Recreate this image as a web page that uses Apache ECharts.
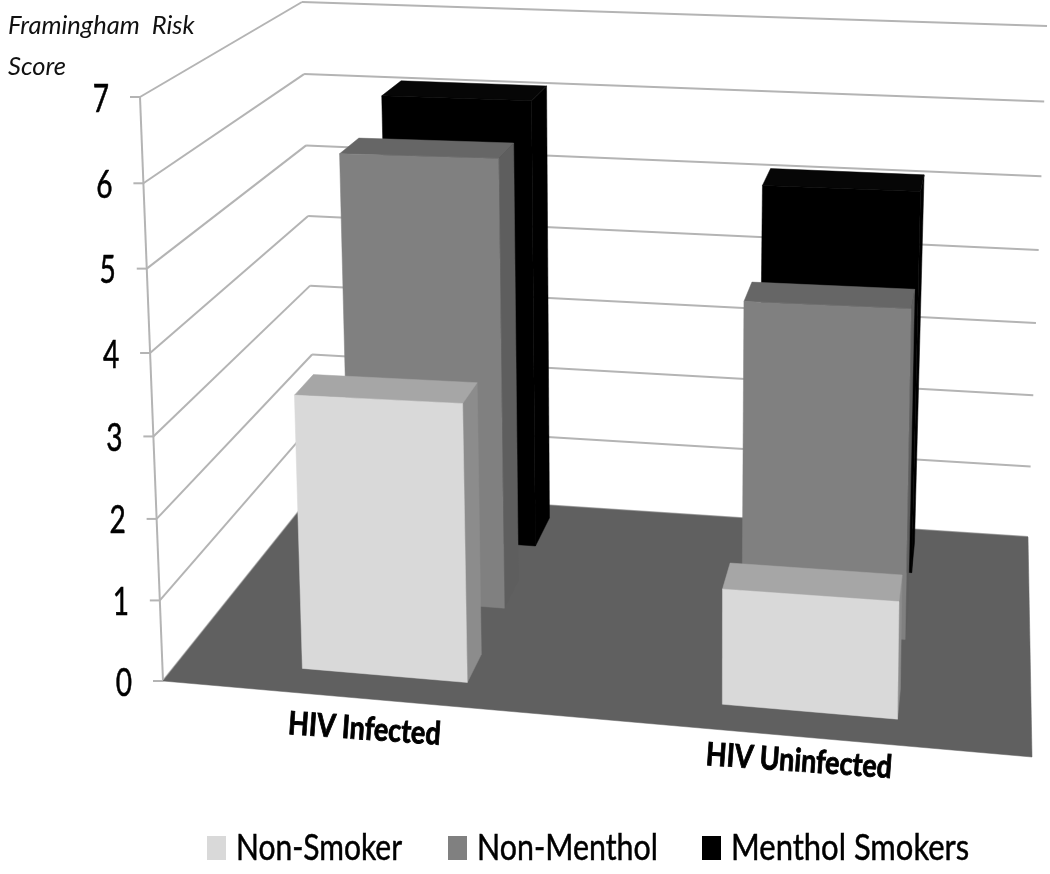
<!DOCTYPE html>
<html><head><meta charset="utf-8">
<style>html,body{margin:0;padding:0;background:#fff}#c{width:1050px;height:874px}</style>
<script src="https://cdn.jsdelivr.net/npm/echarts@6/dist/echarts.min.js"></script>
</head><body><div id="c"></div>
<script>
const categories = ['HIV Infected', 'HIV Uninfected'];
const seriesNames = ['Non-Smoker', 'Non-Menthol', 'Menthol Smokers'];
const nonSmoker = [3.36, 1.36];
const nonMenthol = [5.74, 4.09];
const mentholSmokers = [6.05, 5.05];
const valueTicks = [0, 1, 2, 3, 4, 5, 6, 7];
const yTitle = 'Framingham  Risk\nScore';

const font = 'Lato, sans-serif';
const GRID = {left: 163, top: 97, width: 869, height: 584};
// Box corners of the 3D scene as seen on screen
const C = {
  fbl: [163, 681], fbr: [1032, 757], ftl: [140, 97], ftr: [1045, 105],
  bbl: [316, 490], bbr: [1028, 537], btl: [302, 2], btr: [1047, 26]
};
const mix = (a, b, t) => [a[0] + (b[0] - a[0]) * t, a[1] + (b[1] - a[1]) * t];
function project(u, d, v) {
  const U = 0.94 * u + 0.06 * u * u;
  const V = v - 0.04 * v * (1 - v);
  const fb = mix(C.fbl, C.fbr, U), ft = mix(C.ftl, C.ftr, U);
  const bb = mix(C.bbl, C.bbr, U), bt = mix(C.btl, C.btr, U);
  return mix(mix(fb, ft, V), mix(bb, bt, V), d);
}
const toU = px => (px - GRID.left) / GRID.width;
const toV = py => (GRID.top + GRID.height - py) / GRID.height;

function poly(points, fill) {
  return {type: 'polygon', shape: {points}, style: {fill, stroke: fill, lineWidth: 0.5}};
}
function line(a, b, stroke, w) {
  return {type: 'line', shape: {x1: a[0], y1: a[1], x2: b[0], y2: b[1]}, style: {stroke, lineWidth: w, fill: null}};
}
const DEPTH = 0.14;
function barSeries(name, values, row, z, front, top, side) {
  return {
    name, type: 'custom', coordinateSystem: 'cartesian2d',
    itemStyle: {color: front}, z,
    encode: {x: 0, y: 1}, silent: true,
    data: values.map((v, i) => [i, v]),
    renderItem(params, api) {
      const p = api.coord([api.value(0), api.value(1)]);
      const half = api.size([1, 0])[0] * 0.2 / GRID.width;
      const uc = toU(p[0]), V = toV(p[1]);
      const u0 = uc - half, u1 = uc + half, d0 = row, d1 = row + DEPTH;
      return {type: 'group', children: [
        poly([project(u1, d0, 0), project(u1, d1, 0), project(u1, d1, V), project(u1, d0, V)], side),
        poly([project(u0, d0, V), project(u1, d0, V), project(u1, d1, V), project(u0, d1, V)], top),
        poly([project(u0, d0, 0), project(u1, d0, 0), project(u1, d0, V), project(u0, d0, V)], front)
      ]};
    }
  };
}
const gridColor = '#b4b4b4';
const swatches = ['#d9d9d9', '#808080', '#000000'];
const legendSwatchX = [207, 448, 702];
const legendTextX = [236, 477, 731];
const legendScale = [0.8, 0.81, 0.826];
const option = {
  animation: false,
  backgroundColor: '#fff',
  title: {
    text: yTitle, left: 8, top: 5, padding: 0,
    textStyle: {fontFamily: font, fontStyle: 'italic', fontWeight: 'normal', fontSize: 25.5, lineHeight: 41, color: '#111'}
  },
  grid: GRID,
  xAxis: {type: 'category', data: categories, show: false},
  yAxis: {type: 'value', min: 0, max: 7, interval: 1, show: false},
  series: [
    {
      type: 'custom', coordinateSystem: 'cartesian2d', silent: true, z: 1,
      data: valueTicks.map(v => [0, v]), encode: {x: 0, y: 1},
      renderItem(params, api) {
        const v = api.value(1);
        const V = toV(api.coord([0, v])[1]);
        const f = project(0, 0, V), b = project(0, 1, V), r = project(1, 1, V);
        const children = [];
        if (v === 0) children.push(line(project(0, 0, 0), project(0, 0, 1), gridColor, 2));
        children.push(
          line(f, b, gridColor, 2),
          line(b, r, gridColor, 2),
          line([f[0] - 10, f[1]], f, gridColor, 2),
          {type: 'text', x: f[0] - 39, y: f[1] + 2, scaleX: 0.72, style: {
            text: String(v), fontFamily: font, fontSize: 39, fill: '#000', stroke: '#000', lineWidth: 0.6,
            align: 'center', verticalAlign: 'middle'}}
        );
        return {type: 'group', children};
      }
    },
    {
      type: 'custom', coordinateSystem: 'cartesian2d', silent: true, z: 2,
      data: [[0, 0]], encode: {x: 0, y: 1},
      renderItem() {
        return poly([project(0, 0, 0), project(1, 0, 0), project(1, 1, 0), project(0, 1, 0)], '#606060');
      }
    },
    barSeries(seriesNames[2], mentholSmokers, 0.80, 3, swatches[2], '#060606', '#000000'),
    barSeries(seriesNames[1], nonMenthol, 0.49, 4, swatches[1], '#666666', '#5e5e5e'),
    barSeries(seriesNames[0], nonSmoker, 0.12, 5, swatches[0], '#a6a6a6', '#8c8c8c'),
    {
      type: 'custom', coordinateSystem: 'cartesian2d', silent: true, z: 6,
      data: categories.map((c, i) => [i, 0]), encode: {x: 0, y: 1},
      renderItem(params, api) {
        const i = api.value(0);
        const u = toU(api.coord([i, 0])[0]);
        const p = project(u, 0, 0);
        return {type: 'text', x: p[0] - 6, y: p[1] + 30 - 12 * (u - 0.25), rotation: -0.07, scaleX: 0.84, style: {
          text: categories[i], fontFamily: font, fontWeight: 'bold', fontSize: 32, fill: '#000', stroke: '#000', lineWidth: 0.9,
          align: 'center', verticalAlign: 'middle'}};
      }
    },
    {
      type: 'custom', coordinateSystem: 'none', silent: true, z: 6,
      data: seriesNames.map((n, i) => [i]),
      renderItem(params, api) {
        const i = api.value(0);
        return {type: 'group', children: [
          {type: 'rect', shape: {x: legendSwatchX[i], y: 836, width: 19, height: 24}, style: {fill: swatches[i]}},
          {type: 'text', x: legendTextX[i], y: 848, scaleX: legendScale[i], style: {
            text: seriesNames[i], fontFamily: font, fontSize: 37.5, fill: '#000', stroke: '#000', lineWidth: 0.5,
            align: 'left', verticalAlign: 'middle'}}
        ]};
      }
    }
  ]
};
echarts.init(document.getElementById('c'), null, {renderer: 'canvas'}).setOption(option);
</script></body></html>
